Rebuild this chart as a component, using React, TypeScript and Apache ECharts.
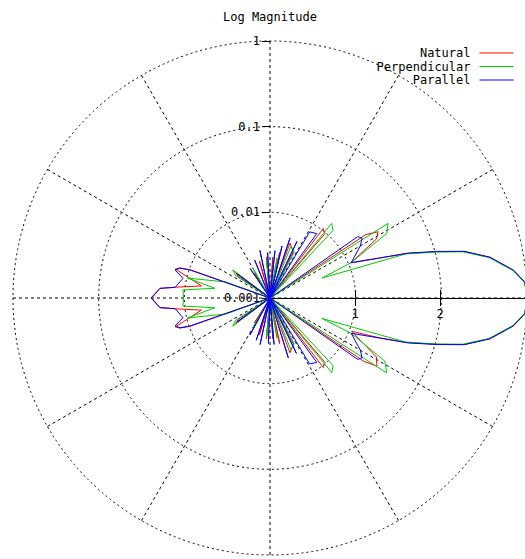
import React, { useEffect, useRef } from "react";
import * as echarts from "echarts";

// Series names and line colours
const seriesNames = ["Natural", "Perpendicular", "Parallel"];
const seriesColors = ["#ff0000", "#00cc00", "#0000ff"];

// Radiation patterns: [angle in degrees (counter-clockwise from +x), linear magnitude]
const natural: [number, number][] = [
  [0, 1.0], [3.5, 0.955], [6.5, 0.72], [10.5, 0.405], [13.5, 0.212], [15.5, 0.106],
  [18, 0.048], [20, 0.023], [23.5, 0.0107], [29, 0.0263], [31.5, 0.0302], [33.5, 0.022],
  [37, 0.001], [49.5, 0.00977], [52.5, 0.0105], [56, 0.001], [63, 0.004], [70, 0.0048],
  [73, 0.001], [78, 0.0035], [82, 0.001], [86, 0.003], [90, 0.001], [95, 0.003],
  [100, 0.001], [106, 0.0028], [112, 0.001], [122, 0.0022], [128, 0.001], [143, 0.0032],
  [146, 0.0028], [150, 0.001], [160.5, 0.00977], [161.5, 0.0128], [163, 0.0143],
  [170, 0.00646], [173.5, 0.013], [175, 0.0195], [180, 0.024],
  [185, 0.0195], [186.5, 0.013], [190, 0.0065], [197, 0.0143], [198.5, 0.0128],
  [199.5, 0.00977], [210, 0.001], [214, 0.0028], [217, 0.0032], [232, 0.001],
  [238, 0.0022], [248, 0.001], [254, 0.0028], [260, 0.001], [265, 0.003], [270, 0.001],
  [274, 0.003], [278, 0.001], [282, 0.0035], [287, 0.001], [290, 0.0048], [297, 0.004],
  [304, 0.001], [307.5, 0.0105], [310.5, 0.00977], [323, 0.001], [326, 0.021],
  [327.5, 0.0302], [331, 0.0263], [337.8, 0.0107], [340, 0.023], [342, 0.048],
  [344.5, 0.106], [346.5, 0.212], [349.5, 0.405], [353.5, 0.72], [356.5, 0.955], [360, 1.0],
];

const perpendicular: [number, number][] = [
  [0, 1.0], [3.5, 0.95], [6.5, 0.71], [10.5, 0.395], [13.5, 0.205], [15.5, 0.102],
  [18, 0.046], [21, 0.00447], [23.5, 0.0107], [29, 0.0363], [32.3, 0.0427], [35, 0.001],
  [47, 0.012], [50.4, 0.0135], [53, 0.001], [62, 0.004], [68, 0.0045], [72, 0.001],
  [80, 0.003], [85, 0.001], [95, 0.0028], [100, 0.001], [120, 0.0025], [126, 0.001],
  [143, 0.0035], [147, 0.003], [150, 0.001], [160, 0.0035], [166.4, 0.0098], [170, 0.0045],
  [174.7, 0.0105], [180, 0.0102], [185.3, 0.0105], [190, 0.0045], [193.6, 0.0098],
  [200, 0.0035], [210, 0.001], [213, 0.003], [217, 0.0035], [234, 0.001], [240, 0.0025],
  [260, 0.001], [265, 0.0028], [275, 0.001], [280, 0.003], [288, 0.001], [292, 0.0045],
  [298, 0.004], [307, 0.001], [309.6, 0.0135], [313, 0.012], [325, 0.001],
  [327.3, 0.0417], [331.2, 0.0339], [336.5, 0.0107], [338.5, 0.00447], [342, 0.046],
  [344.5, 0.102], [346.5, 0.205], [349.5, 0.395], [353.5, 0.71], [356.5, 0.95], [360, 1.0],
];

const parallel: [number, number][] = [
  [0, 1.0], [3.5, 0.96], [6.5, 0.73], [10.5, 0.41], [13.5, 0.216], [15.5, 0.108],
  [18, 0.05], [20, 0.0235], [23.5, 0.0108], [30, 0.0165], [33, 0.0191], [35, 0.0178],
  [38, 0.001], [54, 0.00851], [59, 0.00794], [62, 0.001], [64.5, 0.0054], [67, 0.001],
  [71.5, 0.0055], [74, 0.001], [77, 0.0042], [80, 0.001], [84, 0.0036], [88, 0.001],
  [93, 0.0034], [97, 0.001], [102, 0.0037], [106, 0.001], [112, 0.003], [116, 0.001],
  [124, 0.0026], [130, 0.001], [144, 0.003], [150, 0.001], [160.7, 0.00977],
  [161.7, 0.0128], [163.6, 0.0143], [167.2, 0.011], [173.6, 0.013], [175, 0.0195],
  [180, 0.0245], [185, 0.0195], [186.4, 0.013], [192.8, 0.011], [196.4, 0.0143],
  [198.3, 0.0128], [199.3, 0.00977], [210, 0.001], [216, 0.003], [230, 0.001],
  [241.5, 0.0031], [246, 0.001], [252, 0.0033], [255, 0.001], [258, 0.0036], [263, 0.001],
  [268, 0.0034], [272, 0.001], [275, 0.0035], [280, 0.001], [287, 0.0054], [290, 0.001],
  [295.5, 0.0052], [298, 0.001], [301, 0.0079], [306, 0.0085], [322, 0.001],
  [325, 0.0178], [327, 0.0191], [330, 0.0165], [336.5, 0.0108], [340, 0.0235],
  [342, 0.05], [344.5, 0.108], [346.5, 0.216], [349.5, 0.41], [353.5, 0.73],
  [356.5, 0.96], [360, 1.0],
];

// Radial (log) range and the horizontal decade ticks on the right
const radialMin = 0.001;
const radialMax = 1;
const decadeTicks = [1, 2];

const mono = "'DejaVu Sans Mono', 'Liberation Mono', monospace";

// Angle axis starts at 12 o'clock and runs counter-clockwise, so shift
// mathematical angles (0 = +x) by 270 degrees.
function toPolar(points: [number, number][]) {
  return points.map(([deg, mag]) => [mag, (deg + 270) % 360]);
}

export default function App() {
  const ref = useRef<HTMLDivElement>(null);

  useEffect(() => {
    if (!ref.current) return;
    const chart = echarts.init(ref.current, undefined, { renderer: "svg" });
    const patterns = [natural, perpendicular, parallel];

    chart.setOption({
      animation: false,
      backgroundColor: "#ffffff",
      title: {
        text: "Log Magnitude",
        left: 223,
        top: 11,
        padding: 0,
        textStyle: { fontFamily: mono, fontSize: 12, fontWeight: "normal", color: "#000" },
      },
      legend: {
        data: seriesNames,
        orient: "vertical",
        align: "right",
        right: 11,
        top: 47,
        padding: 0,
        itemWidth: 34,
        itemHeight: 14,
        itemGap: 1.5,
        itemStyle: { opacity: 0 },
        lineStyle: { width: 1 },
        textStyle: { fontFamily: mono, fontSize: 12, color: "#000", padding: [0, 4, 0, 0] },
      },
      polar: { center: [270, 298], radius: 257 },
      angleAxis: {
        type: "value",
        min: 0,
        max: 360,
        interval: 30,
        startAngle: 90,
        clockwise: false,
        axisLine: { show: false },
        axisTick: { show: false },
        axisLabel: { show: false },
        splitLine: { show: true, lineStyle: { color: "#000", width: 1, type: [3, 3] } },
      },
      radiusAxis: {
        type: "log",
        logBase: 10,
        min: radialMin,
        max: radialMax,
        axisLine: { show: false },
        axisTick: { show: true, length: 8, lineStyle: { color: "#000" } },
        axisLabel: { margin: 10, fontFamily: mono, fontSize: 12, color: "#000" },
        splitLine: { show: true, lineStyle: { color: "#000", width: 1, type: [2, 3] } },
      },
      grid: { left: 270, top: 0, width: 257, height: 298 },
      xAxis: [
        {
          type: "value",
          min: 0,
          max: 3,
          interval: 1,
          position: "bottom",
          axisLine: { show: true, onZero: false, lineStyle: { color: "#000", width: 1 } },
          axisTick: { show: true, length: 8, customValues: decadeTicks, lineStyle: { color: "#000" } },
          axisLabel: { customValues: decadeTicks, margin: 10, fontFamily: mono, fontSize: 12, color: "#000" },
          splitLine: { show: false },
        },
        {
          type: "value",
          min: 0,
          max: 3,
          interval: 1,
          position: "bottom",
          axisLine: { show: false, onZero: false },
          axisTick: { show: true, inside: true, length: 8, customValues: decadeTicks, lineStyle: { color: "#000" } },
          axisLabel: { show: false },
          splitLine: { show: false },
        },
      ],
      yAxis: { type: "value", show: false, min: 0, max: 1 },
      series: patterns.map((pts, i) => ({
        name: seriesNames[i],
        type: "line",
        coordinateSystem: "polar",
        data: toPolar(pts),
        symbol: "none",
        smooth: false,
        color: seriesColors[i],
        lineStyle: { color: seriesColors[i], width: 1 },
        z: 3 + i,
      })),
    });

    return () => chart.dispose();
  }, []);

  return (
    <div
      ref={ref}
      style={{ position: "fixed", left: 0, top: 0, width: 525, height: 559, background: "#fff" }}
    />
  );
}
